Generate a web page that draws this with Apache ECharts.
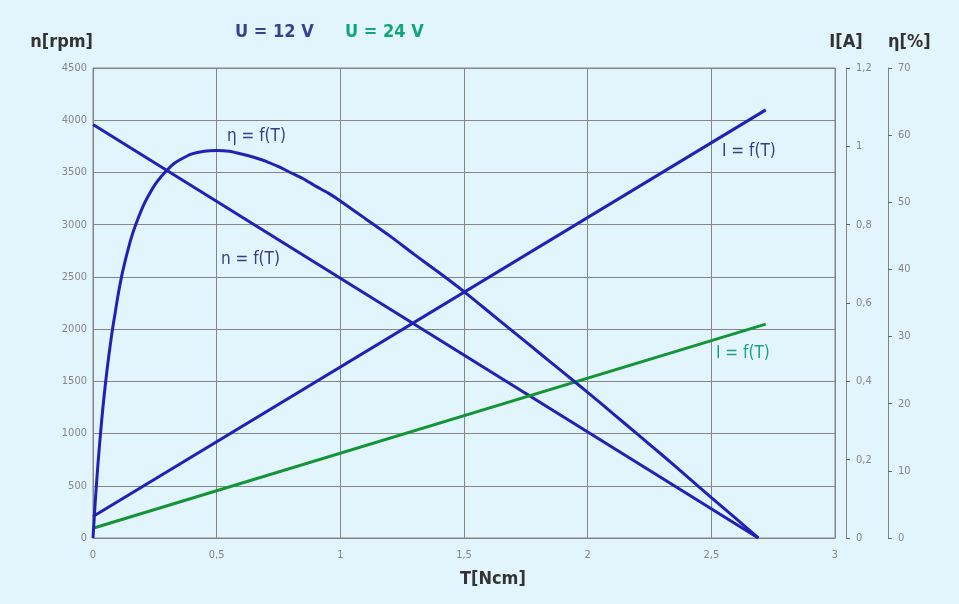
<!DOCTYPE html>
<html><head><meta charset="utf-8">
<script src="https://cdn.jsdelivr.net/npm/echarts@6/dist/echarts.min.js"></script>
<style>html,body{margin:0;padding:0;background:#e3f5fc;}#c{width:959px;height:604px;}</style>
</head><body><div id="c"></div>
<script>
// Torque T [Ncm]
var torqueEta = [0, 0.005, 0.01, 0.02, 0.03, 0.04, 0.05, 0.06, 0.07, 0.08, 0.09, 0.1, 0.12, 0.15, 0.17, 0.2, 0.22, 0.25, 0.275, 0.3, 0.325, 0.35, 0.4, 0.45, 0.5, 0.55, 0.6, 0.65, 0.7, 0.75, 0.8, 0.85, 0.9, 0.95, 1.0, 1.1, 1.2, 1.3, 1.4, 1.5, 1.6, 1.7, 1.8, 1.9, 2.0, 2.1, 2.2, 2.3, 2.4, 2.5, 2.6, 2.69];
// efficiency η [%] (12 V)
var etaValues = [0, 3.0, 5.9, 11.0, 15.4, 19.4, 22.9, 26.0, 28.8, 31.4, 33.6, 35.9, 39.7, 44.1, 46.4, 49.2, 50.7, 52.6, 53.8, 54.8, 55.7, 56.3, 57.2, 57.6, 57.7, 57.6, 57.2, 56.7, 56.1, 55.3, 54.4, 53.5, 52.4, 51.4, 50.2, 47.6, 45.0, 42.2, 39.5, 36.7, 33.7, 30.7, 27.7, 24.7, 21.7, 18.6, 15.5, 12.4, 9.2, 6.0, 2.9, 0];
// speed n [rpm] (12 V)
var torqueN = [0, 2.69];
var speedValues = [3960, 0];
// current I [A]
var torqueI = [0, 2.72];
var current12 = [0.055, 1.093];
var current24 = [0.025, 0.546];
// tick settings
var xTicks = {min: 0, max: 3, interval: 0.5};
var nTicks = {min: 0, max: 4500, interval: 500};
var iTicks = {min: 0, max: 1.2, interval: 0.2};
var etaTicks = {min: 0, max: 70, interval: 10};

function pairs(xs, ys){ return xs.map(function(x,i){ return [x, ys[i]]; }); }
function comma(v){ return String(Math.round(v*100)/100).replace('.', ','); }
function plain(v){ return String(v); }

var FONT = "'Liberation Sans Narrow','DejaVu Sans Condensed','Roboto',sans-serif";
var BLUE = '#2121b5', GREEN = '#139536';
var grid = '#858585', lab = '#868686';

var chart = echarts.init(document.getElementById('c'), null, {renderer:'canvas'});
chart.setOption({
  backgroundColor: '#e3f5fc',
  animation: false,
  textStyle: {fontFamily: FONT},
  grid: {left: 93, right: 124, top: 68, bottom: 66, show: true, borderColor: grid, borderWidth: 1, backgroundColor: 'transparent'},
  xAxis: {
    type: 'value', min: xTicks.min, max: xTicks.max, interval: xTicks.interval,
    axisLine: {show: true, lineStyle: {color: grid}}, axisTick: {show: false},
    splitLine: {show: true, lineStyle: {color: grid, width: 1}},
    axisLabel: {color: lab, fontSize: 11, margin: 12, fontFamily: FONT, formatter: comma}
  },
  yAxis: [
    {type: 'value', min: nTicks.min, max: nTicks.max, interval: nTicks.interval, position: 'left',
     name: 'n[rpm]', nameLocation: 'end', nameGap: 17,
     nameTextStyle: {color: '#333', fontSize: 18, fontWeight: 'bold', align: 'right', fontFamily: FONT},
     axisLine: {show: true, lineStyle: {color: grid}}, axisTick: {show: false},
     splitLine: {show: true, lineStyle: {color: grid, width: 1}},
     axisLabel: {color: lab, fontSize: 11, margin: 6, fontFamily: FONT, formatter: plain}},
    {type: 'value', min: iTicks.min, max: iTicks.max, interval: iTicks.interval, position: 'right', offset: 11,
     name: 'I[A]', nameLocation: 'end', nameGap: 17,
     nameTextStyle: {color: '#333', fontSize: 18, fontWeight: 'bold', align: 'center', fontFamily: FONT},
     axisLine: {show: true, lineStyle: {color: grid}}, axisTick: {show: true, length: 4, lineStyle: {color: '#666'}},
     splitLine: {show: false},
     axisLabel: {color: lab, fontSize: 11, margin: 10, fontFamily: FONT, formatter: comma}},
    {type: 'value', min: etaTicks.min, max: etaTicks.max, interval: etaTicks.interval, position: 'right', offset: 53,
     name: 'η[%]', nameLocation: 'end', nameGap: 17,
     nameTextStyle: {color: '#333', fontSize: 18, fontWeight: 'bold', align: 'left', fontFamily: FONT},
     axisLine: {show: true, lineStyle: {color: grid}}, axisTick: {show: true, length: 4, lineStyle: {color: '#666'}},
     splitLine: {show: false},
     axisLabel: {color: lab, fontSize: 11, margin: 10, fontFamily: FONT, formatter: plain}}
  ],
  series: [
    {name: 'n', type: 'line', yAxisIndex: 0, data: pairs(torqueN, speedValues), symbol: 'none',
     lineStyle: {color: BLUE, width: 3}},
    {name: 'I12', type: 'line', yAxisIndex: 1, data: pairs(torqueI, current12), symbol: 'none',
     lineStyle: {color: BLUE, width: 3}},
    {name: 'I24', type: 'line', yAxisIndex: 1, data: pairs(torqueI, current24), symbol: 'none',
     lineStyle: {color: GREEN, width: 3}},
    {name: 'eta', type: 'line', yAxisIndex: 2, data: pairs(torqueEta, etaValues), symbol: 'none',
     smooth: 0.2,
     lineStyle: {color: BLUE, width: 3}}
  ],
  graphic: [
    {type: 'text', left: 235, top: 23, style: {text: 'U = 12 V', fill: '#3b3f8f', font: 'bold 18px ' + FONT}},
    {type: 'text', left: 345, top: 23, style: {text: 'U = 24 V', fill: '#10a57a', font: 'bold 18px ' + FONT}},
    {type: 'text', left: 460, top: 570, style: {text: 'T[Ncm]', fill: '#333', font: 'bold 18px ' + FONT}},
    {type: 'text', left: 227, top: 128, style: {text: 'η = f(T)', fill: '#3a3a85', font: '17px ' + FONT}},
    {type: 'text', left: 221, top: 251, style: {text: 'n = f(T)', fill: '#3a3a85', font: '17px ' + FONT}},
    {type: 'text', left: 722, top: 143, style: {text: 'I = f(T)', fill: '#3a3a85', font: '17px ' + FONT}},
    {type: 'text', left: 716, top: 345, style: {text: 'I = f(T)', fill: '#1aa383', font: '17px ' + FONT}}
  ]
});
</script></body></html>
